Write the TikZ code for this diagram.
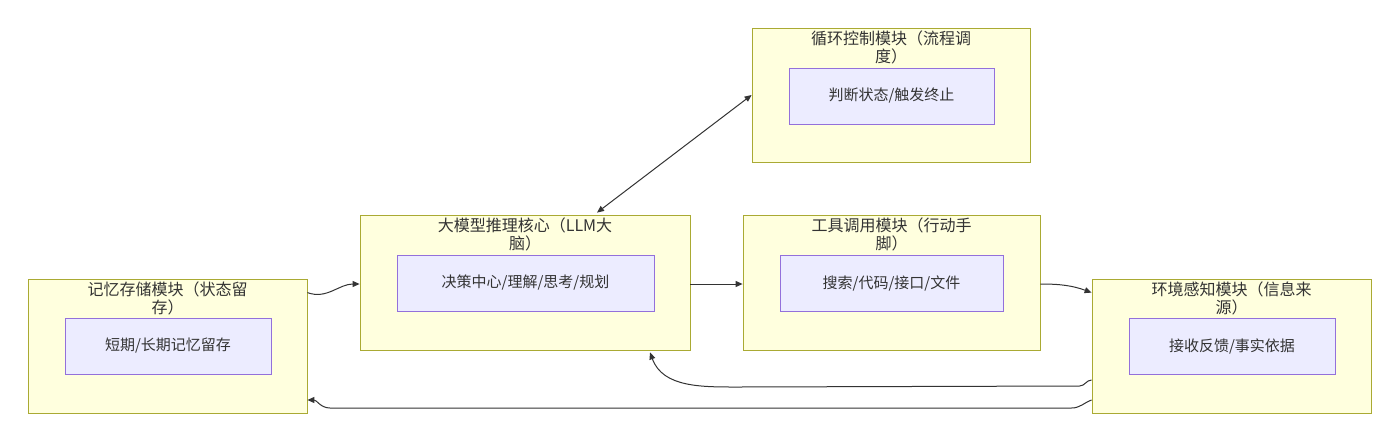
\documentclass[tikz,border=0pt]{standalone}
\usepackage{fontspec}
\setmainfont{Noto Sans CJK SC}
\usepackage{tikz}
\usetikzlibrary{arrows.meta,positioning}

\definecolor{clfill}{HTML}{FFFFDE}
\definecolor{cldraw}{HTML}{AAAA33}
\definecolor{ndfill}{HTML}{ECECFF}
\definecolor{nddraw}{HTML}{9370DB}
\definecolor{txt}{HTML}{333333}

\tikzset{
	cluster/.style={draw=cldraw,fill=clfill,line width=0.8pt,inner sep=0pt},
	title/.style={anchor=north,align=center,text=txt,font=\fontsize{16}{18}\selectfont,inner sep=0pt},
	box/.style={draw=nddraw,fill=ndfill,line width=0.8pt,text=txt,font=\fontsize{15}{18}\selectfont},
	flow/.style={-{Triangle[length=7pt,width=6pt]},draw=txt,line width=1pt},
}

\begin{document}
\begin{tikzpicture}[x=1pt,y=-1pt]
	\useasboundingbox (0,0) rectangle (1400,442);
	% clusters
	\node[cluster,minimum width=278pt,minimum height=134pt] (loop) at (891,95) {};
	\node[cluster,minimum width=330pt,minimum height=135pt] (llm) at (525,282.5) {};
	\node[cluster,minimum width=297pt,minimum height=135pt] (tool) at (891.5,282.5) {};
	\node[cluster,minimum width=279pt,minimum height=134pt] (mem) at (167.5,346) {};
	\node[cluster,minimum width=279pt,minimum height=134pt] (env) at (1231.5,346) {};
	%
	\node[title] (loopT) at ([yshift=-3pt]loop.north) {循环控制模块（流程调\\度）};
	\node[title] (llmT) at ([yshift=-3pt]llm.north) {大模型推理核心（LLM大\\脑）};
	\node[title] (toolT) at ([yshift=-3pt]tool.north) {工具调用模块（行动手\\脚）};
	\node[title] (memT) at ([yshift=-3pt]mem.north) {记忆存储模块（状态留\\存）};
	\node[title] (envT) at ([yshift=-3pt]env.north) {环境感知模块（信息来\\源）};
	% inner nodes
	\node[box,minimum width=205pt,minimum height=56pt] (judge) at (891.5,96) {判断状态/触发终止};
	\node[box,minimum width=257pt,minimum height=56pt] (core) at (525.5,283) {决策中心/理解/思考/规划};
	\node[box,minimum width=223pt,minimum height=56pt] (act) at (891.5,283) {搜索/代码/接口/文件};
	\node[box,minimum width=206pt,minimum height=56pt] (store) at (168,346) {短期/长期记忆留存};
	\node[box,minimum width=206pt,minimum height=56pt] (sense) at (1232,346) {接收反馈/事实依据};
	%
	\coordinate (m1) at ([yshift=-14pt]mem.north east);
	\coordinate (l1) at ([yshift=-1.5pt]llm.west);
	\coordinate (l2) at ([yshift=-1.5pt]llm.east);
	\coordinate (t1) at ([yshift=-1.5pt]tool.west);
	\coordinate (t2) at ([yshift=-1.5pt]tool.east);
	\coordinate (e1) at ([yshift=-14pt]env.north west);
	\coordinate (e2) at ([yshift=-34pt]env.west);
	\coordinate (e3) at ([yshift=-54pt]env.west);
	\coordinate (m2) at ([yshift=-54pt]mem.east);
	\coordinate (l3) at ([xshift=125pt,yshift=-2pt]llm.south);
	\coordinate (l4) at ([xshift=72pt,yshift=2pt]llm.north);
	\coordinate (p1) at (loop.west);
	%
	\draw[flow] (m1) to[out=-20,in=180] (l1);
	\draw[flow] (l2) -- (t1);
	\draw[flow] (t2) to[out=0,in=160] (e1);
	\draw[flow,{Triangle[length=7pt,width=6pt]}-{Triangle[length=7pt,width=6pt]}] (l4) -- (p1);
	\draw[flow] (e2) to[out=180,in=0] ++(-12,6) -- (740,387) to[out=180,in=-70] (l3);
	\draw[flow] (e3) to[out=-160,in=0] ++(-20,8) -- (330,408) to[out=180,in=0] (m2);
\end{tikzpicture}
\end{document}
